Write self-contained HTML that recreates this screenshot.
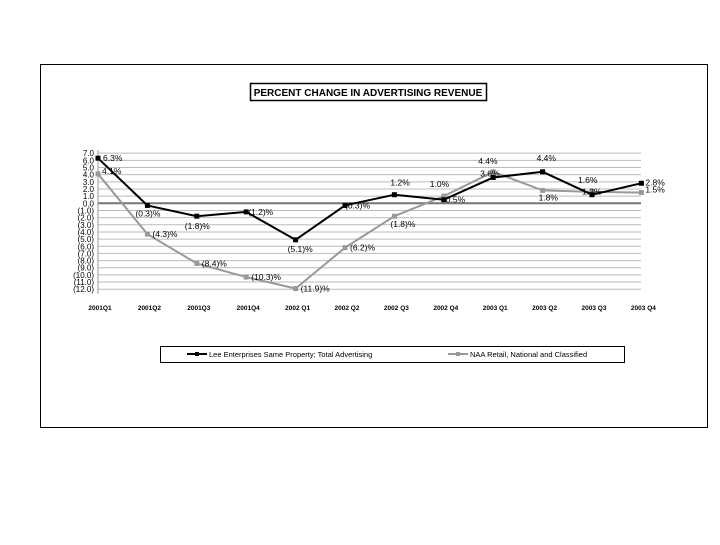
<!DOCTYPE html>
<html><head><meta charset="utf-8"><style>
body{margin:0;background:#fff;width:720px;height:540px;overflow:hidden}
svg text{font-family:"Liberation Sans",sans-serif}
</style></head><body>
<svg id="s" width="720" height="540" xmlns="http://www.w3.org/2000/svg">
<rect x="40.5" y="64.5" width="667" height="363" fill="#fff" stroke="#000" stroke-width="1"/>
<rect x="250.5" y="83.5" width="236" height="17" fill="#fff" stroke="#000" stroke-width="1.5"/>
<text x="368" y="96" font-size="10" font-weight="bold" text-anchor="middle">PERCENT CHANGE IN ADVERTISING REVENUE</text>
<rect x="160.5" y="346.5" width="464" height="16" fill="#fff" stroke="#000"/>
<line x1="187" y1="354" x2="207" y2="354" stroke="#000" stroke-width="2"/><rect x="195" y="352" width="4" height="4" fill="#000"/>
<text x="209" y="357" font-size="7.5">Lee Enterprises Same Property; Total Advertising</text>
<line x1="448" y1="354" x2="468" y2="354" stroke="#999" stroke-width="2"/><rect x="456" y="352" width="4" height="4" fill="#999"/>
<text x="470" y="357" font-size="7.5">NAA Retail, National and Classified</text>
<g id="g"></g>
</svg>
<script>
const g=document.getElementById('g');let h='';
const Y=v=>203.3-7.16*v, X=i=>98+i*49.4;
for(let v=7;v>=-12;v--){const y=Y(v);
 if(v!==0)h+=`<line x1="98" y1="${y}" x2="641" y2="${y}" stroke="#bbb" stroke-width="1"/>`;
 const t=v<0?`(${-v}.0)`:`${v}.0`;
 h+=`<text x="94" y="${y+3}" font-size="8" text-anchor="end">${t}</text>`;}
h+=`<line x1="98" y1="${Y(0)}" x2="641" y2="${Y(0)}" stroke="#777" stroke-width="2"/>`;
h+=`<line x1="98" y1="150" x2="98" y2="294" stroke="#999"/>`;
const labs=['2001Q1','2001Q2','2001Q3','2001Q4','2002 Q1','2002 Q2','2002 Q3','2002 Q4','2003 Q1','2003 Q2','2003 Q3','2003 Q4'];
labs.forEach((l,i)=>h+=`<text x="${X(i)+2}" y="310" font-size="6.5" font-weight="bold" text-anchor="middle">${l}</text>`);
const L=[6.3,-0.3,-1.8,-1.2,-5.1,-0.3,1.2,0.5,3.6,4.4,1.2,2.8];
const N=[4.1,-4.3,-8.4,-10.3,-11.9,-6.2,-1.8,1.0,4.4,1.8,1.6,1.5];
const f=v=>v<0?`(${(-v).toFixed(1)})%`:`${v.toFixed(1)}%`;
h+=`<polyline fill="none" stroke="#999" stroke-width="2" points="${N.map((v,i)=>X(i)+','+Y(v)).join(' ')}"/>`;
h+=`<polyline fill="none" stroke="#000" stroke-width="2" points="${L.map((v,i)=>X(i)+','+Y(v)).join(' ')}"/>`;
N.forEach((v,i)=>h+=`<rect x="${X(i)-2.5}" y="${Y(v)-2.5}" width="5" height="5" fill="#999"/>`);
L.forEach((v,i)=>h+=`<rect x="${X(i)-2.5}" y="${Y(v)-2.5}" width="5" height="5" fill="#000"/>`);
// labels [dx,dy]
const Lo=[[5,3],[-12,11],[-12,13],[2,3],[-8,12],[0,3],[-4,-9],[2,3],[-13,-1],[-6,-11],[-10,0],[4,2]];
const No=[[4,0],[5,3],[5,3],[5,3],[5,3],[5,3],[-4,11],[-14,-9],[-15,-8],[-4,10],[-14,-9],[4,0]];
L.forEach((v,i)=>h+=`<text x="${X(i)+Lo[i][0]}" y="${Y(v)+Lo[i][1]}" font-size="8.5">${f(v)}</text>`);
N.forEach((v,i)=>h+=`<text x="${X(i)+No[i][0]}" y="${Y(v)+No[i][1]}" font-size="8.5">${f(v)}</text>`);
g.innerHTML=h;
</script>
</body></html>
